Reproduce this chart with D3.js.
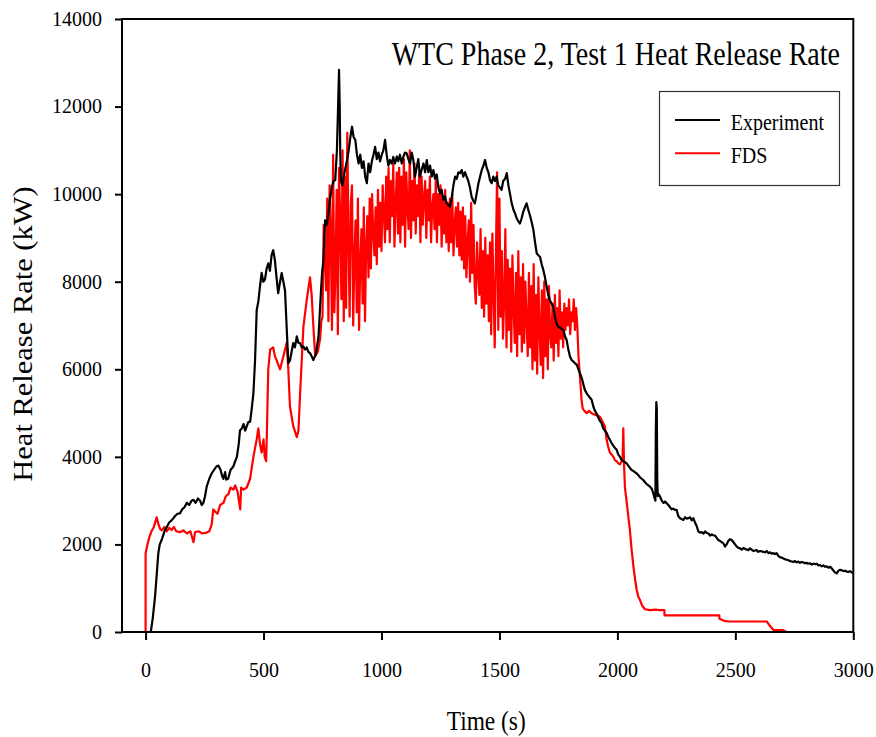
<!DOCTYPE html>
<html><head><meta charset="utf-8">
<script src="https://cdn.jsdelivr.net/npm/d3@7"></script>
<style>body{margin:0;background:#fff}svg{display:block}text{font-family:"Liberation Serif","Times New Roman",serif;fill:#000}</style>
</head><body><svg id="c" width="876" height="737"></svg>
<script>
const xTicks=[0,500,1000,1500,2000,2500,3000];
const yTicks=[0,2000,4000,6000,8000,10000,12000,14000];
const titleText="WTC Phase 2, Test 1 Heat Release Rate";
const seriesNames=["Experiment","FDS"];

// Experiment: [time s, HRR kW]
const expData=[[22,0],[30,300],[40,800],[47,1300],[54,1800],[60,2000],[68,2100],[80,2300],[90,2400],[100,2500],[110,2550],[118,2600],[125,2650],[135,2700],[146,2710],[155,2800],[165,2850],[175,2950],[185,2900],[195,3000],[203,3020],[212,2950],[222,3050],[231,3000],[238,2900],[245,2950],[252,3100],[259,3320],[270,3500],[280,3620],[290,3700],[300,3780],[309,3800],[318,3700],[325,3550],[330,3500],[337,3650],[342,3480],[350,3500],[360,3700],[372,3780],[380,3900],[387,4000],[395,4300],[400,4600],[408,4650],[415,4750],[422,4600],[429,4700],[436,4800],[443,4800],[450,5100],[457,5450],[464,6200],[471,7350],[478,7550],[485,7900],[492,8200],[499,8000],[506,8050],[513,8300],[520,8420],[527,8250],[534,8600],[541,8720],[548,8500],[555,8100],[562,7740],[570,8000],[577,8200],[584,8000],[591,7800],[598,6970],[605,6140],[612,6200],[619,6400],[626,6600],[633,6500],[641,6750],[648,6600],[655,6600],[662,6500],[669,6520],[676,6450],[683,6500],[690,6400],[697,6370],[704,6300],[711,6210],[718,6300],[722,6350],[733,6750],[743,7740],[748,8200],[754,8500],[761,9400],[768,9300],[775,9560],[782,9900],[790,10170],[797,10300],[804,10320],[811,11000],[816,12000],[820,12840],[823,12000],[825,11000],[828,10300],[834,10200],[840,10400],[847,10600],[854,10780],[861,11000],[868,11300],[875,11540],[882,11300],[889,11240],[896,10900],[903,10700],[910,10900],[917,10600],[924,10750],[931,10400],[938,10250],[945,10700],[952,10500],[959,10750],[966,10900],[973,11080],[980,10800],[987,10950],[994,10750],[1001,10900],[1008,11000],[1015,11240],[1022,10900],[1029,10650],[1036,10780],[1043,10700],[1050,10850],[1057,10700],[1065,10860],[1071,10750],[1078,10900],[1086,10700],[1093,10860],[1100,10950],[1107,10930],[1114,10800],[1121,10700],[1128,10950],[1135,10780],[1142,10400],[1149,10600],[1156,10800],[1163,10400],[1170,10550],[1178,10700],[1185,10500],[1192,10780],[1199,10500],[1206,10650],[1213,10400],[1220,10550],[1227,10350],[1234,10450],[1241,10150],[1248,10020],[1255,10100],[1262,9870],[1269,9950],[1276,9800],[1283,9750],[1290,9710],[1297,9900],[1305,10200],[1312,10400],[1319,10350],[1326,10500],[1333,10480],[1340,10550],[1347,10400],[1354,10500],[1361,10400],[1368,10300],[1375,10150],[1382,9940],[1389,9850],[1396,9790],[1403,10000],[1411,10250],[1418,10400],[1425,10550],[1432,10650],[1439,10780],[1446,10600],[1453,10500],[1460,10320],[1467,10250],[1474,10400],[1481,10300],[1488,10400],[1495,10200],[1502,10150],[1509,10100],[1516,10300],[1524,10350],[1531,10480],[1538,10200],[1545,10000],[1552,9790],[1559,9650],[1566,9560],[1573,9450],[1580,9380],[1587,9330],[1594,9450],[1601,9600],[1608,9700],[1615,9790],[1622,9650],[1630,9500],[1637,9350],[1644,9180],[1651,8900],[1658,8650],[1665,8600],[1672,8570],[1679,8400],[1686,8270],[1693,8100],[1700,7890],[1707,7700],[1714,7580],[1721,7500],[1728,7430],[1735,7200],[1742,7050],[1749,6970],[1756,6950],[1764,6920],[1771,6900],[1778,6750],[1785,6670],[1792,6450],[1799,6290],[1806,6210],[1813,6180],[1820,6140],[1828,6100],[1835,6000],[1841,5910],[1849,5800],[1856,5650],[1862,5530],[1870,5450],[1877,5400],[1884,5350],[1891,5300],[1898,5150],[1905,5050],[1912,4990],[1919,4900],[1926,4820],[1933,4770],[1940,4650],[1947,4600],[1955,4540],[1962,4450],[1969,4380],[1976,4310],[1983,4250],[1990,4200],[1997,4160],[2004,4050],[2011,4000],[2018,3930],[2025,3900],[2032,3880],[2039,3850],[2046,3800],[2053,3750],[2060,3700],[2067,3680],[2074,3650],[2082,3620],[2089,3580],[2096,3530],[2103,3500],[2110,3470],[2117,3420],[2124,3380],[2131,3350],[2138,3320],[2145,3280],[2152,3170],[2158,3050],[2161,3000],[2163,4600],[2165,5250],[2167,5100],[2169,3500],[2171,3100],[2174,3150],[2181,3090],[2188,3000],[2195,2950],[2202,2980],[2209,2940],[2216,2900],[2223,2850],[2230,2800],[2237,2820],[2244,2790],[2251,2790],[2258,2650],[2265,2600],[2272,2580],[2280,2560],[2287,2620],[2294,2590],[2301,2600],[2308,2620],[2315,2550],[2322,2600],[2329,2500],[2336,2420],[2343,2300],[2350,2270],[2357,2280],[2365,2250],[2372,2300],[2379,2260],[2386,2250],[2393,2200],[2400,2230],[2407,2210],[2414,2200],[2421,2150],[2428,2100],[2435,2080],[2442,2050],[2449,2030],[2456,1950],[2463,2000],[2470,2080],[2477,2120],[2485,2100],[2492,2050],[2499,2000],[2506,1950],[2513,1920],[2520,1910],[2527,1880],[2534,1920],[2541,1900],[2548,1880],[2555,1870],[2562,1910],[2569,1880],[2576,1850],[2583,1860],[2590,1870],[2597,1830],[2605,1850],[2612,1840],[2619,1830],[2626,1820],[2633,1850],[2640,1800],[2647,1820],[2654,1790],[2661,1800],[2668,1780],[2675,1800],[2682,1740],[2689,1710],[2696,1700],[2704,1680],[2711,1660],[2718,1650],[2725,1640],[2732,1620],[2739,1610],[2746,1600],[2753,1620],[2760,1590],[2767,1610],[2774,1580],[2781,1600],[2788,1590],[2795,1570],[2802,1580],[2809,1560],[2816,1570],[2824,1540],[2831,1560],[2838,1550],[2845,1560],[2852,1520],[2859,1530],[2866,1500],[2873,1520],[2880,1490],[2887,1500],[2894,1470],[2902,1490],[2909,1450],[2916,1400],[2923,1360],[2930,1340],[2937,1400],[2944,1420],[2951,1410],[2958,1390],[2965,1400],[2972,1380],[2979,1370],[2986,1390],[2993,1360],[3000,1350]];

// FDS before the oscillating phase: [time s, HRR kW]
const fdsEarly=[[0,0],[0,1800],[8,2000],[15,2150],[25,2300],[35,2400],[47,2620],[55,2450],[62,2350],[69,2320],[80,2400],[90,2300],[100,2380],[110,2330],[120,2400],[130,2300],[146,2280],[160,2320],[175,2250],[190,2300],[203,2050],[210,2280],[225,2300],[240,2250],[259,2270],[270,2300],[280,2450],[287,2800],[295,2750],[305,2700],[316,2900],[330,2950],[340,3100],[351,3150],[360,3300],[372,3250],[380,3350],[390,3200],[401,2800],[405,3300],[415,3250],[429,3300],[443,3500],[457,4000],[471,4400],[478,4650],[485,4300],[492,4100],[500,4400],[505,4000],[511,3900],[514,4500],[520,6000],[528,6450],[541,6500],[548,6300],[556,6200],[570,6000],[584,6300],[598,6600],[605,6000],[612,5150],[626,4700],[641,4450],[648,4600],[655,5450],[669,6970],[683,7580],[697,8100],[704,7700],[711,7000],[719,6300],[730,6400],[740,6700],[745,7100]];

// FDS oscillating phase, sampled every 5 s from 750 s
const fdsNoisyStart=750, fdsNoisyStep=5;
const fdsNoisy=[7200,9300,8600,7800,9900,7100,10200,9100,6900,10900,
7300,8200,10100,6800,10600,9400,7600,11000,7100,10400,
7400,11400,9000,7200,9800,10200,7000,8500,9400,7300,
9900,6900,8400,9200,7500,9700,7100,8800,9500,8100,
9900,8300,10000,9100,8600,9700,8400,10100,8800,9800,
8700,10200,9600,8900,10400,9200,10600,8900,10300,9500,
10700,8800,9800,10500,9100,10600,8900,10400,9300,10800,
8800,10500,9700,9200,11000,9000,10300,9400,10700,9100,
10200,9500,10500,8900,10400,9300,9900,10300,9000,10100,
9400,10400,8900,9700,10000,9200,10300,8900,10000,9300,
10200,8800,9900,9100,10100,8900,9800,8700,9900,8900,
10000,8600,9300,9700,8800,9800,8600,9600,8500,9700,
8300,9500,8100,8900,9400,8000,9800,8200,9300,7900,
7500,8900,8200,7700,9200,7400,8700,7200,9000,7500,
8600,7100,8900,6800,9100,7800,6500,8600,10500,6900,
9900,7200,8700,6700,7600,9200,6500,8500,6900,8300,
6400,8600,7400,6600,8200,6300,8700,6800,8100,6400,
8400,6600,8000,7100,6300,8200,6500,7900,6000,8400,
6200,7700,5900,8100,6900,6100,7800,5800,8000,6300,
7600,6000,7900,6800,6500,7500,6200,7700,6600,7400,
6300,7800,6700,7300,6500,7500,6900,7400,7000,7600,
6800,7300,7100,7600,6900,7400,7000,6300];

// FDS decay: [time s, HRR kW]
const fdsLate=[[1843,5700],[1848,5300],[1853,5100],[1860,5050],[1870,5000],[1880,5050],[1890,5000],[1898,4980],[1910,4950],[1925,4920],[1933,4850],[1940,4770],[1947,4700],[1954,4400],[1961,4230],[1968,4100],[1976,4050],[1983,4000],[1990,3920],[1997,3900],[2004,3850],[2011,3830],[2018,3900],[2022,3950],[2025,4650],[2028,3850],[2032,3300],[2040,2940],[2047,2600],[2053,2330],[2060,1900],[2068,1490],[2075,1200],[2082,960],[2089,800],[2096,730],[2105,600],[2117,520],[2138,500],[2160,510],[2180,500],[2199,500],[2200,380],[2300,380],[2432,380],[2433,300],[2450,260],[2470,240],[2600,240],[2633,240],[2645,150],[2661,50],[2700,45],[2718,0],[3000,0]];

const fdsData=fdsEarly.concat(fdsNoisy.map((v,i)=>[fdsNoisyStart+i*fdsNoisyStep,v]),fdsLate);

const svg=d3.select("#c");
const x=d3.scaleLinear().domain([-100,3000]).range([122,853.3]);
const y=d3.scaleLinear().domain([0,14000]).range([632,19]);

const line=d3.line().x(d=>x(d[0])).y(d=>y(d[1]));
const plot=svg.append("g");
plot.append("path").datum(fdsData).attr("d",line).attr("fill","none").attr("stroke","#ff0000").attr("stroke-width",2.2).attr("stroke-linejoin","round");
plot.append("path").datum(expData).attr("d",line).attr("fill","none").attr("stroke","#000").attr("stroke-width",2.2).attr("stroke-linejoin","round");

// frame
svg.append("rect").attr("x",x(-100)).attr("y",y(14000)).attr("width",x(3000)-x(-100)).attr("height",y(0)-y(14000))
  .attr("fill","none").attr("stroke","#000").attr("stroke-width",2);

const gx=svg.append("g").attr("transform",`translate(0,${y(0)})`)
  .call(d3.axisBottom(x).tickValues(xTicks).tickSize(8).tickPadding(23).tickFormat(d3.format("d")));
const gy=svg.append("g").attr("transform",`translate(${x(-100)},0)`)
  .call(d3.axisLeft(y).tickValues(yTicks).tickSize(7).tickPadding(13).tickFormat(d3.format("d")));
[gx,gy].forEach(g=>{
  g.attr("font-family",null).attr("font-size",null);
  g.select(".domain").remove();
  g.selectAll(".tick line").attr("stroke","#000").attr("stroke-width",2);
  g.selectAll(".tick text").attr("fill","#000")
    .style("font-family","'Liberation Serif','Times New Roman',serif").style("font-size","20px");
});

svg.append("text").attr("transform","translate(391.7,65) scale(1,1.18)").attr("font-size",28).text(titleText);

svg.append("text").attr("transform","translate(446.7,730) scale(1,1.19)").attr("font-size",23.4).text("Time (s)");

svg.append("text").attr("transform","translate(32,334) scale(0.9,1) rotate(-90)")
  .attr("text-anchor","middle").attr("font-size",30.5).text("Heat Release Rate (kW)");

// legend
const lg=svg.append("g");
lg.append("rect").attr("x",659.5).attr("y",91.5).attr("width",180).attr("height",94).attr("fill","#fff").attr("stroke","#333").attr("stroke-width",1.2);
const legColors=["#000","#ff0000"], legY=[120,153.3];
seriesNames.forEach((n,i)=>{
  lg.append("line").attr("x1",675).attr("x2",720).attr("y1",legY[i]).attr("y2",legY[i]).attr("stroke",legColors[i]).attr("stroke-width",2);
  lg.append("text").attr("transform",`translate(730.7,${legY[i]+10}) scale(1,1.145)`).attr("font-size",20).text(n);
});
</script></body></html>
